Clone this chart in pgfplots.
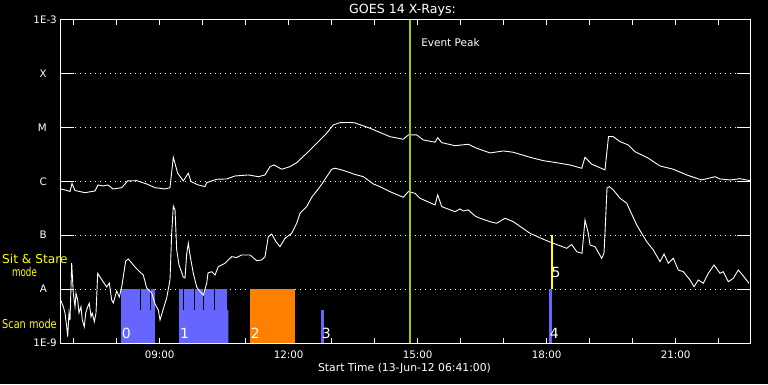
\documentclass[border=0pt]{standalone}
\usepackage{fontspec}
\setmainfont{DejaVu Sans}
\usepackage{graphicx}
\usepackage{pgfplots}
\pgfplotsset{compat=1.18}
\usepackage{pgfplotstable}
\definecolor{scanblue}{RGB}{102,102,255}
\definecolor{sitorange}{RGB}{255,128,0}
\definecolor{peakgreen}{RGB}{153,204,0}
\definecolor{sityellow}{RGB}{255,255,0}

% long channel (upper curve): hours, log10 flux
\pgfplotstableread{
x y
6.699 -6.143
6.800 -6.161
6.916 -6.189
6.962 -6.041
7.032 -6.171
7.264 -6.212
7.497 -6.180
7.567 -6.069
7.683 -6.087
7.799 -6.069
7.916 -6.143
8.118 -6.119
8.257 -5.994
8.467 -5.989
8.699 -6.050
8.892 -6.119
9.125 -6.143
9.241 -6.119
9.318 -5.555
9.420 -5.852
9.550 -5.994
9.667 -5.852
9.730 -6.007
9.899 -6.069
10.055 -6.100
10.095 -6.026
10.327 -5.963
10.560 -5.957
10.753 -5.902
11.062 -5.883
11.295 -5.915
11.450 -5.883
11.567 -5.729
11.660 -5.698
11.839 -5.777
12.032 -5.729
12.188 -5.655
12.420 -5.481
12.690 -5.265
12.885 -5.109
13.039 -4.955
13.195 -4.913
13.427 -4.909
13.544 -4.918
13.892 -5.017
14.357 -5.173
14.667 -5.221
14.783 -5.141
14.978 -5.141
15.132 -5.234
15.404 -5.276
15.467 -5.191
15.560 -5.284
15.869 -5.340
16.178 -5.314
16.374 -5.388
16.683 -5.475
16.992 -5.438
17.225 -5.462
17.613 -5.555
17.923 -5.618
18.311 -5.666
18.543 -5.698
18.816 -5.759
18.892 -5.555
19.048 -5.683
19.357 -5.790
19.439 -5.169
19.550 -5.173
19.706 -5.265
19.899 -5.327
20.055 -5.451
20.364 -5.573
20.636 -5.716
20.946 -5.777
21.257 -5.883
21.606 -5.976
21.916 -5.915
22.032 -5.957
22.264 -5.976
22.497 -5.952
22.730 -5.989
}\longch

% short channel (lower curve)
\pgfplotstableread{
x y
6.699 -8.202
6.760 -8.327
6.799 -8.443
6.839 -8.698
6.862 -8.883
6.892 -8.443
6.916 -8.573
6.955 -7.521
6.992 -8.078
7.032 -8.327
7.055 -8.078
7.095 -8.202
7.125 -8.443
7.171 -8.327
7.202 -8.573
7.248 -8.698
7.281 -8.443
7.327 -8.327
7.364 -8.263
7.404 -8.512
7.434 -8.449
7.481 -8.605
7.520 -8.449
7.560 -7.707
7.613 -7.776
7.690 -7.868
7.769 -7.961
7.830 -7.887
7.885 -8.202
7.923 -8.258
8.002 -8.035
8.062 -8.147
8.118 -7.961
8.211 -7.479
8.271 -7.442
8.350 -7.516
8.427 -7.590
8.543 -7.683
8.620 -7.738
8.699 -7.980
8.816 -8.072
8.892 -8.276
8.969 -8.388
9.009 -8.573
9.085 -8.369
9.164 -8.165
9.241 -7.831
9.281 -6.959
9.318 -6.458
9.358 -6.532
9.397 -7.275
9.451 -7.553
9.550 -7.776
9.590 -7.794
9.629 -7.349
9.667 -7.150
9.706 -7.367
9.783 -7.707
9.862 -7.961
9.939 -8.048
10.016 -8.109
10.095 -7.892
10.125 -7.701
10.211 -7.677
10.288 -7.738
10.365 -7.584
10.520 -7.521
10.676 -7.399
10.793 -7.414
10.909 -7.367
11.102 -7.367
11.258 -7.473
11.374 -7.460
11.450 -7.399
11.527 -7.028
11.606 -6.978
11.706 -7.121
11.799 -7.213
11.916 -7.058
12.072 -6.965
12.188 -6.779
12.265 -6.594
12.420 -6.471
12.537 -6.297
12.730 -6.100
12.885 -5.915
13.002 -5.777
13.079 -5.759
13.234 -5.790
13.427 -5.840
13.504 -5.865
13.737 -5.915
13.969 -6.050
14.125 -6.100
14.357 -6.193
14.667 -6.297
14.783 -6.193
14.939 -6.223
15.055 -6.315
15.404 -6.440
15.467 -6.254
15.560 -6.471
15.869 -6.564
15.985 -6.514
16.062 -6.551
16.178 -6.532
16.334 -6.644
16.450 -6.686
16.683 -6.750
16.838 -6.779
17.032 -6.686
17.225 -6.750
17.613 -6.965
17.923 -7.076
18.155 -7.150
18.467 -7.243
18.583 -7.173
18.699 -7.306
18.823 -7.336
18.892 -6.718
18.969 -6.965
19.009 -7.182
19.125 -7.213
19.281 -7.429
19.334 -7.336
19.357 -6.965
19.404 -6.124
19.457 -6.100
19.550 -6.161
19.706 -6.315
19.862 -6.408
20.095 -6.811
20.327 -7.121
20.481 -7.275
20.636 -7.492
20.730 -7.349
20.830 -7.521
20.946 -7.429
21.062 -7.646
21.179 -7.677
21.334 -7.831
21.427 -7.955
21.527 -7.831
21.644 -7.892
21.760 -7.707
21.893 -7.553
22.032 -7.707
22.109 -7.677
22.225 -7.863
22.341 -7.800
22.457 -7.646
22.555 -7.738
22.706 -7.892
}\shortch

\begin{document}
\begin{tikzpicture}
\fill[black] (0,0) rectangle (768pt,384pt);
\begin{axis}[
  at={(60pt,41pt)}, anchor=south west,
  scale only axis, width=690.5pt, height=323.5pt,
  xmin=6.683, xmax=22.741, ymin=-9, ymax=-3,
  axis line style={white, line width=0.9pt},
  xtick={7,...,22},
  xticklabels={,,09:00,,,12:00,,,15:00,,,18:00,,,21:00,},
  ytick={-9,-8,-7,-6,-5,-4,-3},
  yticklabels={1E-9,A\hspace*{10pt},B\hspace*{10pt},C\hspace*{10pt},M\hspace*{10pt},X\hspace*{10pt},1E-3},
  tick align=inside, xtick pos=both, ytick pos=both,
  xticklabel pos=lower, yticklabel pos=left,
  xtick style={white, line width=0.9pt, /pgfplots/major tick length=5pt},
  ytick style={white, line width=0.9pt, /pgfplots/major tick length=14pt},
  ymajorgrids,
  grid style={white, line width=0.9pt, dash pattern=on 0.9pt off 4.1pt},
  ticklabel style={white, font=\fontsize{10.3}{12}\selectfont},
  yticklabel style={inner sep=0pt, xshift=-3pt},
  xticklabel style={yshift=-4pt},
  unbounded coords=jump,
]
% scan mode intervals (blue), sit & stare (orange)
\addplot[fill=scanblue, draw=none] coordinates {(8.102,-9) (8.102,-8) (8.892,-8) (8.892,-9)} --cycle;
\addplot[fill=scanblue, draw=none] coordinates {(9.451,-9) (9.451,-8) (10.567,-8) (10.567,-8.39) (10.597,-8.39) (10.597,-9)} --cycle;
\addplot[fill=sitorange, draw=none] coordinates {(11.102,-9) (11.102,-8) (12.149,-8) (12.149,-9)} --cycle;
\addplot[fill=scanblue, draw=none] coordinates {(12.753,-9) (12.753,-8.388) (12.823,-8.388) (12.823,-9)} --cycle;
\addplot[fill=scanblue, draw=none] coordinates {(18.055,-9) (18.055,-8) (18.118,-8) (18.118,-9)} --cycle;
% data gaps inside scan intervals
\addplot[black, line width=1pt] coordinates {
 (8.544,-8) (8.544,-8.39) (8.6,nan)
 (8.799,-8) (8.799,-8.39) (8.9,nan)
 (9.551,-8) (9.551,-8.39) (9.6,nan)
 (9.807,-8) (9.807,-8.39) (9.9,nan)
 (10.016,-8) (10.016,-8.39) (10.1,nan)
 (10.265,-8) (10.265,-8.39)};
% sit & stare marker (yellow)
\addplot[fill=sityellow, draw=none] coordinates {(18.102,-8) (18.102,-7) (18.148,-7) (18.148,-8)} --cycle;
% GOES curves
\addplot[white, line width=0.9pt] table {\longch};
\addplot[white, line width=0.9pt] table {\shortch};
% event peak
\addplot[peakgreen, line width=2pt] coordinates {(14.823,-9) (14.823,-3)};
% labels
\node[white, anchor=west, inner sep=0pt, font=\fontsize{14}{14}\selectfont] at (axis cs:8.12,-8.82) {0};
\node[white, anchor=west, inner sep=0pt, font=\fontsize{14}{14}\selectfont] at (axis cs:9.47,-8.82) {1};
\node[white, anchor=west, inner sep=0pt, font=\fontsize{14}{14}\selectfont] at (axis cs:11.12,-8.82) {2};
\node[white, anchor=west, inner sep=0pt, font=\fontsize{14}{14}\selectfont] at (axis cs:12.77,-8.82) {3};
\node[white, anchor=west, inner sep=0pt, font=\fontsize{14}{14}\selectfont] at (axis cs:18.07,-8.82) {4};
\node[white, anchor=west, inner sep=0pt, font=\fontsize{14}{14}\selectfont] at (axis cs:18.11,-7.70) {5};
\node[white, anchor=west, inner sep=0pt, font=\fontsize{10.5}{12}\selectfont] at (axis cs:15.08,-3.434) {Event Peak};
\end{axis}
\node[white, font=\fontsize{12.6}{14}\selectfont] at (402.5pt,374pt) {GOES 14 X-Rays:};
\node[white, font=\fontsize{10.8}{13}\selectfont] at (404.5pt,16pt) {Start Time (13-Jun-12 06:41:00)};
\node[sityellow, anchor=west, inner sep=0pt, font=\fontsize{12.2}{14}\selectfont] at (2pt,125pt) {Sit \& Stare};
\node[sityellow, inner sep=0pt, font=\fontsize{12.2}{14}\selectfont] at (24.5pt,112.5pt) {\scalebox{0.72}[1]{mode}};
\node[sityellow, anchor=west, inner sep=0pt, font=\fontsize{12.2}{14}\selectfont] at (2pt,60.5pt) {\scalebox{0.8}[1]{Scan mode}};
\pgfresetboundingbox
\path[use as bounding box] (0,0) rectangle (768pt,384pt);
\end{tikzpicture}
\end{document}
